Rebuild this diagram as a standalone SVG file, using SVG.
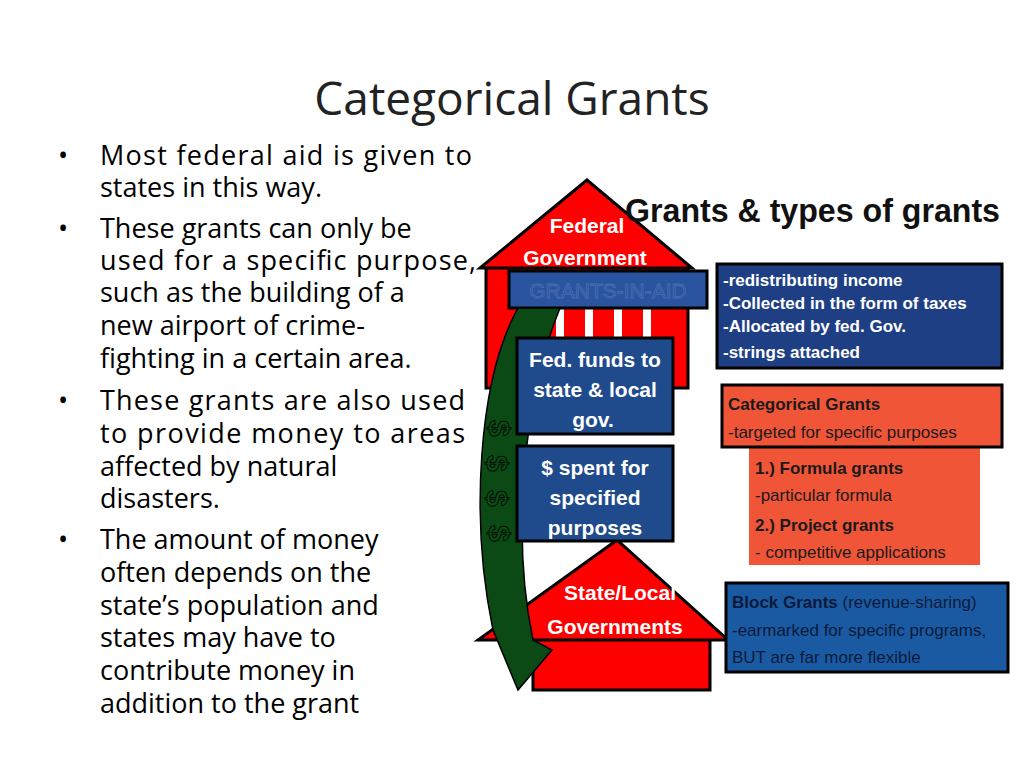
<svg xmlns="http://www.w3.org/2000/svg" width="1024" height="768" viewBox="0 0 1024 768">
<style>
.b{font-family:"Open Sans","Liberation Sans",sans-serif;font-size:27px;fill:#000}
.w{font-family:"Liberation Sans",sans-serif;font-weight:bold;fill:#fff;font-size:21px;text-anchor:middle}
.r{font-family:"Liberation Sans",sans-serif;font-size:17px}
.blk{stroke:#000;stroke-width:3}
</style>
<rect width="1024" height="768" fill="#fff"/>
<text x="512" y="115" text-anchor="middle" font-family="'Open Sans','Liberation Sans',sans-serif" font-size="46" fill="#222">Categorical Grants</text>
<g class="b">
<text x="58" y="165">•</text><text x="100" y="165" textLength="372">Most federal aid is given to</text>
<text x="100" y="197">states in this way.</text>
<text x="58" y="238">•</text><text x="100" y="238">These grants can only be</text>
<text x="100" y="270" textLength="376">used for a specific purpose,</text>
<text x="100" y="302">such as the building of a</text>
<text x="100" y="335">new airport of crime-</text>
<text x="100" y="368">fighting in a certain area.</text>
<text x="58" y="410">•</text><text x="100" y="410" textLength="365">These grants are also used</text>
<text x="100" y="443" textLength="365">to provide money to areas</text>
<text x="100" y="476">affected by natural</text>
<text x="100" y="508">disasters.</text>
<text x="58" y="549">•</text><text x="100" y="549">The amount of money</text>
<text x="100" y="582">often depends on the</text>
<text x="100" y="615">state’s population and</text>
<text x="100" y="647">states may have to</text>
<text x="100" y="680">contribute money in</text>
<text x="100" y="713">addition to the grant</text>
</g>
<g id="federal">
<rect x="486" y="267" width="202" height="121" fill="#f00" class="blk"/>
<g fill="#fff"><rect x="527" y="305" width="8" height="35"/><rect x="556" y="305" width="8" height="35"/><rect x="585" y="305" width="8" height="35"/><rect x="614" y="305" width="8" height="35"/><rect x="643" y="305" width="8" height="35"/></g>
<polygon points="587,180 480,268 692,268" fill="#f00" class="blk"/>
<text x="587" y="233" class="w">Federal</text>
<text x="585" y="265" class="w">Government</text>
<rect x="509" y="271" width="198" height="37" fill="#2a54a0" class="blk"/>
<text x="608" y="298" text-anchor="middle" font-family="Liberation Sans,sans-serif" font-size="21" fill="none" stroke="#4a6fb0" stroke-width="0.8">GRANTS-IN-AID</text>
</g>
<g id="state">
<rect x="533" y="638" width="177" height="52" fill="#f00" class="blk"/>
<polygon points="617,540 478,640 728,640" fill="#f00" class="blk"/>
<text x="620" y="600" class="w">State/Local</text>
<text x="615" y="634" class="w">Governments</text>
</g>
<g id="connectors">
<path d="M518,308 C478,380 470,520 493,630 L518,690 L552,650 L533,640 C512,540 522,400 560,308 Z" fill="#0b4a15" stroke="#000" stroke-width="1.5"/>
<g font-family="Liberation Sans,sans-serif" font-weight="bold" font-size="30" fill="#0b4a15" stroke="#000" stroke-width="0.8">
<text transform="translate(489,420) rotate(90)">$</text>
<text transform="translate(487,455) rotate(90)">$</text>
<text transform="translate(487,490) rotate(90)">$</text>
<text transform="translate(489,525) rotate(90)">$</text>
</g>
</g>
<g id="fedfunds">
<rect x="517" y="338" width="156" height="96" fill="#1f4a8c" class="blk"/>
<text x="595" y="367" class="w">Fed. funds to</text>
<text x="595" y="397" class="w">state &amp; local</text>
<text x="593" y="427" class="w">gov.</text>
</g>
<g id="spent">
<rect x="517" y="446" width="156" height="95" fill="#1f4a8c" class="blk"/>
<text x="595" y="475" class="w">$ spent for</text>
<text x="595" y="505" class="w">specified</text>
<text x="595" y="535" class="w">purposes</text>
</g>
<text x="625" y="222" font-family="Liberation Sans,sans-serif" font-weight="bold" font-size="34" textLength="375" lengthAdjust="spacingAndGlyphs" fill="#111">Grants &amp; types of grants</text>
<g id="gia">
<rect x="717" y="264" width="285" height="104" fill="#1f3f85" class="blk"/>
<g class="r" font-weight="bold" fill="#fff">
<text x="723" y="286">-redistributing income</text>
<text x="723" y="309">-Collected in the form of taxes</text>
<text x="723" y="332">-Allocated by fed. Gov.</text>
<text x="723" y="358">-strings attached</text>
</g>
</g>
<g id="categorical">
<rect x="749" y="447" width="231" height="118" fill="#f05538"/>
<rect x="722" y="385" width="280" height="62" fill="#f05538" class="blk"/>
<g class="r" fill="#1a1a1a">
<text x="728" y="410" font-weight="bold">Categorical Grants</text>
<text x="728" y="438">-targeted for specific purposes</text>
<text x="755" y="474" font-weight="bold">1.) Formula grants</text>
<text x="755" y="501">-particular formula</text>
<text x="755" y="531" font-weight="bold">2.) Project grants</text>
<text x="755" y="558">- competitive applications</text>
</g>
</g>
<g id="block">
<rect x="726" y="583" width="282" height="89" fill="#1a5aa3" class="blk"/>
<g class="r" fill="#0a1a3a">
<text x="732" y="608"><tspan font-weight="bold">Block Grants</tspan> (revenue-sharing)</text>
<text x="732" y="636">-earmarked for specific programs,</text>
<text x="732" y="663">BUT are far more flexible</text>
</g>
</g>
</svg>
